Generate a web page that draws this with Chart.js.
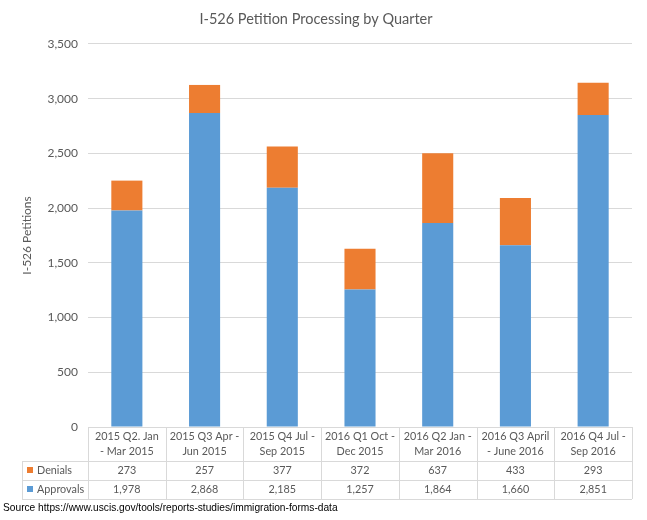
<!DOCTYPE html>
<html lang="en">
<head>
    <meta charset="UTF-8">
    <title>I-526 Petition Processing by Quarter</title>
    <script src="https://cdn.jsdelivr.net/npm/chart.js"></script>
    <style>
        body {
            margin: 0;
            background-color: #ffffff;
        }
        #wrap {
            position: relative;
            width: 647px;
            height: 520px;
        }
        #source {
            position: absolute;
            left: 3px;
            top: 502px;
            font-family: "Liberation Sans", Arial, sans-serif;
            font-size: 10.2px;
            color: #000000;
        }
    </style>
</head>
<body>

<div id="wrap">
    <canvas id="petitionChart" width="647" height="520"></canvas>
    <div id="source">Source https://www.uscis.gov/tools/reports-studies/immigration-forms-data</div>
</div>

<script>
    // Quarter labels (two lines each, as in the table header)
    const categories = [
        ['2015 Q2. Jan', '- Mar 2015'],
        ['2015 Q3 Apr -', 'Jun 2015'],
        ['2015 Q4 Jul -', 'Sep 2015'],
        ['2016 Q1 Oct -', 'Dec 2015'],
        ['2016 Q2 Jan -', 'Mar 2016'],
        ['2016 Q3 April', '- June 2016'],
        ['2016 Q4 Jul -', 'Sep 2016']
    ];
    const denials = [273, 257, 377, 372, 637, 433, 293];
    const approvals = [1978, 2868, 2185, 1257, 1864, 1660, 2851];
    const yTicks = [0, 500, 1000, 1500, 2000, 2500, 3000, 3500];

    const blue = '#5b9bd5';
    const orange = '#ed7d31';
    const textColor = '#595959';
    const lineColor = '#d9d9d9';
    const fontFamily = 'Lato, "Noto Sans", sans-serif';

    const fmt = v => v.toLocaleString('en-US');

    // Draws the Excel style data table under the plot, using the x scale columns
    const dataTable = {
        id: 'dataTable',
        afterDraw(chart) {
            const ctx = chart.ctx;
            const area = chart.chartArea;
            const xs = chart.scales.x;
            const n = categories.length;
            const colW = (area.right - area.left) / n;
            const top = area.bottom;
            const r1 = top + 34;
            const r2 = r1 + 19;
            const r3 = r2 + 19;
            const legendLeft = 22;

            ctx.save();
            ctx.strokeStyle = lineColor;
            ctx.lineWidth = 1;
            ctx.beginPath();
            // horizontal lines
            ctx.moveTo(area.left, top + 0.5); ctx.lineTo(area.right, top + 0.5);
            [r1, r2, r3].forEach(y => {
                ctx.moveTo(legendLeft, y + 0.5); ctx.lineTo(area.right, y + 0.5);
            });
            // vertical lines
            for (let i = 0; i <= n; i++) {
                const x = Math.round(area.left + i * colW) + 0.5;
                ctx.moveTo(x, top); ctx.lineTo(x, r3);
            }
            ctx.moveTo(legendLeft + 0.5, r1); ctx.lineTo(legendLeft + 0.5, r3);
            ctx.stroke();

            ctx.fillStyle = textColor;
            ctx.font = '10.8px ' + fontFamily;
            ctx.textAlign = 'center';
            ctx.textBaseline = 'middle';
            categories.forEach((lines, i) => {
                const cx = xs.getPixelForValue(i);
                ctx.fillText(lines[0], cx, top + 10);
                ctx.fillText(lines[1], cx, top + 25);
                ctx.fillText(fmt(denials[i]), cx, r1 + 10);
                ctx.fillText(fmt(approvals[i]), cx, r2 + 10);
            });

            // legend keys
            ctx.textAlign = 'left';
            ctx.fillStyle = orange;
            ctx.fillRect(legendLeft + 5, r1 + 6, 6, 6);
            ctx.fillStyle = blue;
            ctx.fillRect(legendLeft + 5, r2 + 6, 6, 6);
            ctx.fillStyle = textColor;
            ctx.fillText('Denials', legendLeft + 15, r1 + 10);
            ctx.fillText('Approvals', legendLeft + 15, r2 + 10);
            ctx.restore();
        }
    };

    const ctx = document.getElementById('petitionChart').getContext('2d');

    new Chart(ctx, {
        type: 'bar',
        data: {
            labels: categories,
            datasets: [
                {
                    label: 'Approvals',
                    data: approvals,
                    backgroundColor: blue
                },
                {
                    label: 'Denials',
                    data: denials,
                    backgroundColor: orange
                }
            ]
        },
        options: {
            responsive: false,
            animation: false,
            datasets: {
                bar: {
                    categoryPercentage: 1,
                    barPercentage: 0.4
                }
            },
            layout: {
                padding: { left: 0, right: 15, top: 0, bottom: 93 }
            },
            plugins: {
                legend: { display: false },
                tooltip: { enabled: false },
                title: {
                    display: true,
                    text: 'I-526 Petition Processing by Quarter',
                    color: textColor,
                    font: { family: fontFamily, size: 14.5, weight: 'normal' },
                    padding: { top: 11, bottom: 15.5 }
                }
            },
            scales: {
                x: {
                    display: false,
                    stacked: true
                },
                y: {
                    stacked: true,
                    min: 0,
                    max: 3500,
                    afterBuildTicks(scale) {
                        scale.ticks = yTicks.map(v => ({ value: v }));
                    },
                    afterFit(scale) {
                        scale.width = 88;
                    },
                    border: { display: false },
                    grid: {
                        color: lineColor,
                        drawTicks: false
                    },
                    ticks: {
                        color: textColor,
                        padding: 10,
                        font: { family: fontFamily, size: 12 },
                        callback: v => fmt(v)
                    },
                    title: {
                        display: true,
                        text: 'I-526 Petitions',
                        color: textColor,
                        font: { family: fontFamily, size: 12 },
                        padding: { top: 20, bottom: 0 }
                    }
                }
            }
        },
        plugins: [dataTable]
    });
</script>

</body>
</html>
